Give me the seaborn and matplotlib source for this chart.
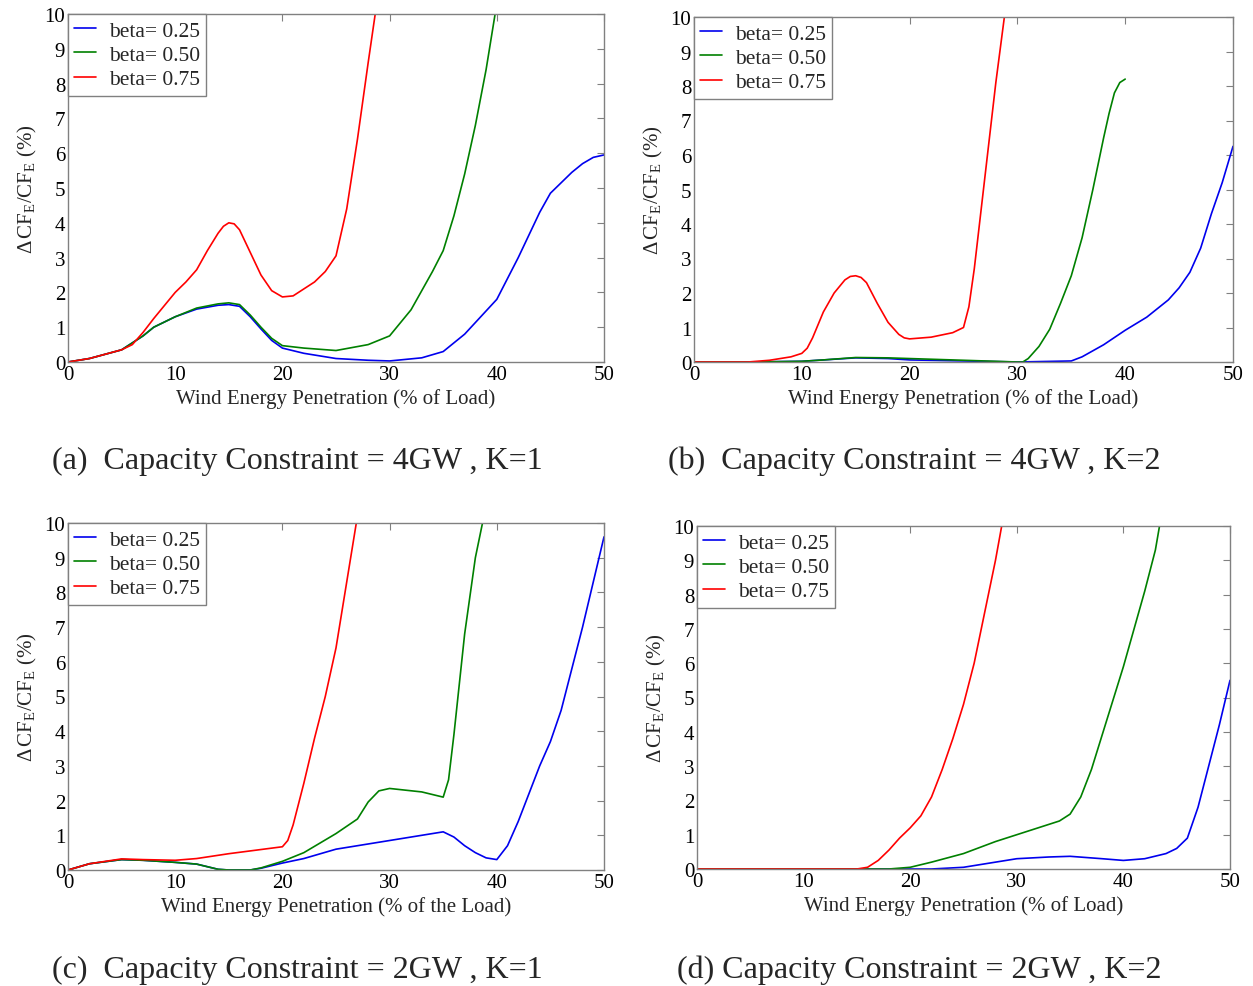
import numpy as np
import pandas as pd
import matplotlib
matplotlib.use("Agg")
import matplotlib.pyplot as plt
import seaborn as sns

# ---- data: relative change of CF_E (%) vs. wind energy penetration (%) ----
betas = ["beta= 0.25", "beta= 0.50", "beta= 0.75"]
colors = ["#0000ee", "#008000", "#ff0000"]

# (a) 4GW, K=1
a_x25 = [0, 2, 5, 7, 8, 10, 12, 14, 15, 16, 17, 18, 19, 20, 22, 25, 28, 30, 33, 35, 37, 40, 42, 44, 45, 47, 48, 49, 50]
a_y25 = [0, 0.1, 0.35, 0.75, 1.0, 1.3, 1.52, 1.63, 1.65, 1.6, 1.3, 0.95, 0.62, 0.4, 0.25, 0.1, 0.05, 0.03, 0.12, 0.3, 0.8, 1.8, 3.0, 4.3, 4.85, 5.45, 5.7, 5.88, 5.95]
a_x50 = [0, 2, 5, 7, 8, 10, 12, 14, 15, 16, 17, 18, 19, 20, 22, 25, 28, 30, 32, 34, 35, 36, 37, 38, 39, 40]
a_y50 = [0, 0.1, 0.35, 0.75, 1.0, 1.3, 1.55, 1.67, 1.7, 1.65, 1.35, 1.0, 0.68, 0.47, 0.4, 0.33, 0.5, 0.75, 1.5, 2.6, 3.2, 4.2, 5.4, 6.8, 8.4, 10.3]
a_x75 = [0, 2, 5, 6, 7, 8, 10, 11, 12, 13, 14, 14.5, 15, 15.5, 16, 17, 18, 19, 20, 21, 23, 24, 25, 26, 27, 28, 28.8]
a_y75 = [0, 0.1, 0.35, 0.5, 0.85, 1.25, 2.0, 2.3, 2.65, 3.2, 3.7, 3.9, 4.0, 3.97, 3.8, 3.15, 2.5, 2.05, 1.87, 1.9, 2.3, 2.6, 3.05, 4.4, 6.4, 8.6, 10.3]

# (b) 4GW, K=2
b_x25 = [0, 5, 10, 12, 15, 18, 20, 25, 30, 35, 36, 38, 40, 42, 44, 45, 46, 47, 48, 49, 50]
b_y25 = [0, 0, 0.02, 0.06, 0.12, 0.1, 0.06, 0.03, 0.0, 0.03, 0.15, 0.5, 0.92, 1.3, 1.8, 2.15, 2.6, 3.3, 4.3, 5.2, 6.25]
b_x50 = [0, 5, 10, 12, 15, 18, 20, 25, 30, 30.5, 31, 32, 33, 34, 35, 36, 37, 38, 38.5, 39, 39.5, 40]
b_y50 = [0, 0, 0.02, 0.06, 0.13, 0.12, 0.1, 0.05, 0.0, 0.0, 0.1, 0.45, 0.95, 1.7, 2.5, 3.6, 5.0, 6.5, 7.2, 7.8, 8.1, 8.2]
b_x75 = [0, 5, 7, 9, 10, 10.5, 11, 12, 13, 14, 14.5, 15, 15.5, 16, 17, 18, 19, 19.5, 20, 22, 24, 25, 25.5, 26, 27, 28, 29]
b_y75 = [0, 0, 0.05, 0.15, 0.25, 0.4, 0.7, 1.45, 2.0, 2.38, 2.48, 2.5, 2.45, 2.3, 1.7, 1.15, 0.8, 0.7, 0.67, 0.72, 0.85, 1.0, 1.6, 2.7, 5.4, 8.1, 10.5]

# (c) 2GW, K=1
c_x25 = [0, 2, 5, 7, 10, 12, 14, 15, 17, 18, 20, 22, 25, 28, 30, 33, 35, 36, 37, 38, 39, 40, 41, 42, 43, 44, 45, 46, 48, 50]
c_y25 = [0, 0.18, 0.3, 0.28, 0.22, 0.17, 0.02, 0.0, 0.0, 0.05, 0.2, 0.33, 0.6, 0.75, 0.85, 1.0, 1.1, 0.95, 0.7, 0.5, 0.35, 0.3, 0.7, 1.4, 2.2, 3.0, 3.7, 4.6, 7.0, 9.6]
c_x50 = [0, 2, 5, 7, 10, 12, 14, 15, 17, 18, 20, 22, 25, 27, 28, 29, 30, 33, 35, 35.5, 36, 37, 38, 39]
c_y50 = [0, 0.18, 0.3, 0.28, 0.22, 0.17, 0.02, 0.0, 0.0, 0.06, 0.25, 0.5, 1.05, 1.47, 1.96, 2.28, 2.35, 2.25, 2.1, 2.6, 3.9, 6.8, 9.0, 10.5]
c_x75 = [0, 2, 5, 7, 10, 12, 15, 17, 20, 20.5, 21, 22, 23, 24, 25, 26, 27]
c_y75 = [0, 0.18, 0.32, 0.3, 0.28, 0.33, 0.47, 0.55, 0.67, 0.85, 1.3, 2.5, 3.8, 5.0, 6.4, 8.3, 10.2]

# (d) 2GW, K=2
d_x25 = [0, 10, 20, 22, 25, 28, 30, 33, 35, 38, 40, 42, 44, 45, 46, 47, 48, 49, 50]
d_y25 = [0, 0, 0, 0.0, 0.05, 0.2, 0.3, 0.35, 0.37, 0.3, 0.25, 0.3, 0.45, 0.6, 0.9, 1.8, 3.0, 4.2, 5.5]
d_x50 = [0, 10, 18, 20, 22, 25, 28, 30, 32, 34, 35, 36, 37, 38, 39, 40, 41, 42, 43, 43.5]
d_y50 = [0, 0, 0, 0.05, 0.2, 0.45, 0.8, 1.0, 1.2, 1.4, 1.6, 2.1, 2.9, 3.9, 4.9, 5.9, 7.0, 8.1, 9.3, 10.2]
d_x75 = [0, 10, 15, 16, 17, 18, 19, 20, 21, 22, 23, 24, 25, 26, 27, 28, 28.7]
d_y75 = [0, 0, 0, 0.05, 0.25, 0.55, 0.9, 1.2, 1.55, 2.1, 2.9, 3.8, 4.8, 6.0, 7.5, 9.0, 10.2]

panels = [
    dict(xs=[a_x25, a_x50, a_x75], ys=[a_y25, a_y50, a_y75],
         xlabel="Wind Energy Penetration (% of Load)",
         caption="(a)  Capacity Constraint = 4GW , K=1"),
    dict(xs=[b_x25, b_x50, b_x75], ys=[b_y25, b_y50, b_y75],
         xlabel="Wind Energy Penetration (% of the Load)",
         caption="(b)  Capacity Constraint = 4GW , K=2"),
    dict(xs=[c_x25, c_x50, c_x75], ys=[c_y25, c_y50, c_y75],
         xlabel="Wind Energy Penetration (% of the Load)",
         caption="(c)  Capacity Constraint = 2GW , K=1"),
    dict(xs=[d_x25, d_x50, d_x75], ys=[d_y25, d_y50, d_y75],
         xlabel="Wind Energy Penetration (% of Load)",
         caption="(d) Capacity Constraint = 2GW , K=2"),
]

sns.set_theme(style="white")
plt.rcParams["font.family"] = ["Liberation Serif", "DejaVu Serif"]
plt.rcParams["mathtext.fontset"] = "custom"
plt.rcParams["mathtext.rm"] = "Liberation Serif"
plt.rcParams["mathtext.it"] = "Liberation Serif:italic"

W, H = 1253, 987
fig = plt.figure(figsize=(W / 100, H / 100), dpi=100)

# axes boxes in pixels: left, top, right, bottom
boxes = [(68, 15, 604, 363), (694, 18, 1233, 363),
         (68, 524, 604, 871), (697, 527, 1230, 870)]
captions_xy = [(52, 461), (668, 461), (52, 970), (677, 970)]

grey = "#808080"
for p, (l, t, r, b), (cx, cy) in zip(panels, boxes, captions_xy):
    ax = fig.add_axes([l / W, 1 - b / H, (r - l) / W, (b - t) / H])
    frames = []
    for name, xv, yv in zip(betas, p["xs"], p["ys"]):
        frames.append(pd.DataFrame({"x": xv, "y": yv, "beta": name}))
    df = pd.concat(frames, ignore_index=True)
    sns.lineplot(data=df, x="x", y="y", hue="beta", palette=colors,
                 estimator=None, sort=False, linewidth=1.2, ax=ax)
    ax.set_xlim(0, 50)
    ax.set_ylim(0, 10)
    ax.set_xticks(range(0, 51, 10))
    ax.set_yticks(range(0, 11))
    ax.tick_params(direction="in", length=5, width=0.8, color=grey,
                   labelsize=15, pad=2, top=True, right=True,
                   labelcolor="black")
    for s in ax.spines.values():
        s.set_color(grey)
        s.set_linewidth(1.0)
    ax.set_xlabel(p["xlabel"], fontsize=15, labelpad=3)
    ax.set_ylabel(r"$\Delta\,\mathrm{CF}_\mathrm{E}/\mathrm{CF}_\mathrm{E}$ (%)",
                  fontsize=15, labelpad=4)
    leg = ax.legend(loc="upper left", fontsize=15.5, frameon=True, fancybox=False,
                    framealpha=1, edgecolor=grey, borderaxespad=0,
                    handlelength=1.0, handletextpad=0.6, borderpad=0.3,
                    labelspacing=0.2, title=None)
    leg.get_frame().set_linewidth(1.0)
    fig.text(cx / W, 1 - cy / H, p["caption"], fontsize=23,
             ha="left", va="center")

fig.savefig("out.png", dpi=100, facecolor="white")
